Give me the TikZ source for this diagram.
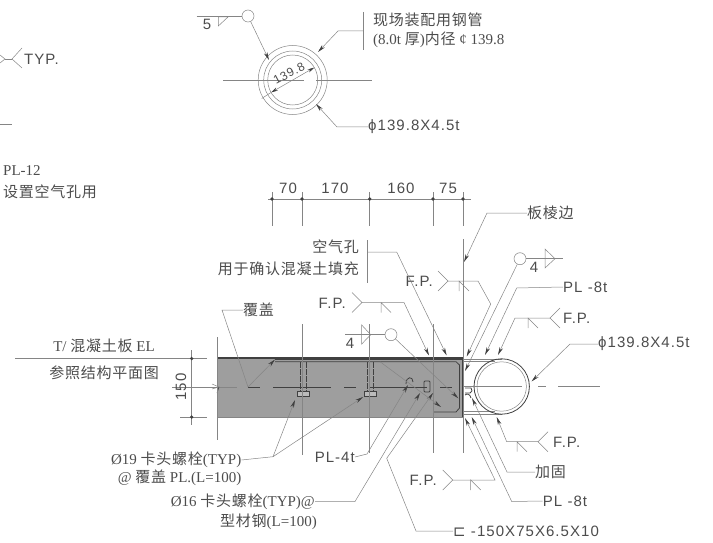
\documentclass[tikz,border=0pt]{standalone}
\usepackage{fontspec}
\setmainfont{Liberation Serif}
\newfontfamily\cjkfont[LetterSpace=5]{Noto Sans CJK SC}
\newfontfamily\drawfont[LetterSpace=7]{Liberation Sans}
\newfontfamily\symfont{DejaVu Sans}
\newcommand{\cjk}[1]{{\cjkfont #1}}
\usetikzlibrary{
    positioning,
    arrows.meta
    }
\definecolor{inkline}{gray}{0.52}
\definecolor{inktext}{gray}{0.3}
\definecolor{inkdark}{gray}{0.25}
\definecolor{slabfill}{gray}{0.62}

\begin{document}
\begin{tikzpicture}[x=1pt, y=-1pt]
\tikzset{hair/.style =
        {
            line width=0.5pt,
            inkline
        }
}

\tikzset{leader/.style =
        {
            hair,
            -{Stealth[length=8pt, width=3.6pt, inkdark]}
        }
}

\tikzset{steel/.style =
        {
            line width=0.8pt,
            inkdark
        }
}

\tikzset{serif label/.style =
        {
            inner sep=0pt,
            text=inktext,
            font=\fontsize{15}{15}\selectfont
        }
}

\tikzset{sans label/.style =
        {
            serif label,
            font=\fontsize{15}{15}\selectfont\drawfont
        }
}

\tikzset{weld ring/.style =
        {
            shape=circle,
            hair,
            minimum size=12pt,
            inner sep=0pt,
            draw
        }
}

\tikzset{dim dot/.style =
        {
            shape=circle,
            fill=inkdark,
            minimum size=3.6pt,
            inner sep=0pt
        }
}

\tikzset{fp fork/.pic = {
            \draw [hair] (-10,-10) -- (0,0) -- (-10,10);
        }
}

\tikzset{fp tick/.pic = {
            \draw [hair] (0,10) -- (0,0) -- (10,10);
        }
}

\useasboundingbox (0,0) rectangle (713,543);

% slab and section
\fill [slabfill] (217,358) rectangle (463,417);
\draw [steel, line width=1.2pt] (217,358) -- (463,358);
\draw [inkline, line width=0.8pt] (217,417) -- (463,417);

\draw [steel] (275,359.5) -- (463,359.5);
\draw [steel] (275,361.7) -- (456,361.7) -- (459.5,365) -- (459.5,408) -- (456,412) -- (433,412);
\draw [steel, line width=1.2pt] (463,358) -- (463,417);
\draw [hair] (463,359.3) -- (502,359.3);
\draw [hair] (463,361.7) -- (495,361.7);
\draw [hair] (463,414) -- (502,414);
\draw [hair] (463,411.7) -- (495,411.7);

\foreach \bx in {300,367}
{
    \draw [steel, dashed, dash pattern=on 6pt off 1pt] (\bx,362) -- (\bx,391);
    \draw [steel, dashed, dash pattern=on 6pt off 1pt] (\bx+6.5,362) -- (\bx+6.5,391);
    \draw [steel, fill=slabfill!70] (\bx-3,391) rectangle (\bx+9,396);
}

\draw [steel] (406,384) .. controls (406,376) and (413,376) .. (413,382);
\draw [steel, rounded corners=1pt] (424,381) rectangle (430,392);
\draw [steel] (465,388) -- (471,388) .. controls (473,390) and (472,392) .. (470,393) -- (465,393);
\draw [steel] (465,395) .. controls (467,393) and (470,394) .. (471,398);

% tube
\draw [steel] (501.7,386.5) circle [radius=27.7];
\draw [hair] (501.7,386.5) circle [radius=24.7];

% centre lines
\draw [hair] (172,387) -- (237,387);
\draw [steel, line width=0.5pt, dash pattern=on 12pt off 13pt on 58pt off 13pt] (248,387) -- (460,387);
\draw [hair] (463,386.5) -- (522,386.5);
\draw [hair, dash pattern=on 8pt off 12pt on 42pt off 12pt] (538,386.5) -- (610,386.5);
\draw [hair] (212,384) -- (219,387) -- (212,389);
\draw [steel, line width=0.5pt] (219,387) -- (217,393);

% dimensions
\foreach \ex / \etop / \elow in {302/324/455, 369.7/324/453, 433/324/453}
{
    \draw [hair] (\ex,192) -- (\ex,226);
    \draw [hair] (\ex,\etop) -- (\ex,\elow);
}
\draw [hair] (272,192) -- (272,226);
\draw [hair] (463,192) -- (463,226);
\draw [hair] (463,239) -- (463,453);
\draw [hair] (217,337) -- (217,440);
\draw [hair] (268,199) -- (471,199);
\foreach \name / \dx in {a/272, b/302, c/369.7, d/433, e/463}
    \node [dim dot] (dot-\name) at (\dx,199) {};
\foreach \name / \dx / \txt in {a/288/70, b/335/170, c/401/160, d/448/75}
    \node [sans label] (len-\name) at (\dx,188) {\txt};

\draw [hair] (15,358.5) -- (207,358.5);
\draw [hair] (180,417) -- (207,417);
\draw [hair] (191.7,350) -- (191.7,425);
\node [dim dot] (dot-f) at (191.7,358.5) {};
\node [dim dot] (dot-g) at (191.7,417) {};
\node [sans label, rotate=90] (len-f) at (181,387) {150};

\node [serif label] (level-top) at (104,346) {T/ \cjk{混凝土板} EL};
\node [serif label] (level-low) at (104,373) {\cjk{参照结构平面图}};

% top detail
\node [weld ring] (ring-top) at (248,16) {};
\draw [hair] (196.7,16) -- (ring-top);
\draw [hair] (218.3,17) -- (228,17) -- (218.3,26) -- cycle;
\node [sans label] (weld-top) at (207,24) {5};

\coordinate (pipe) at (292.7,80);
\draw [hair] (pipe) circle [radius=34.5];
\draw [hair] (pipe) circle [radius=29];
\draw [hair] (pipe) circle [radius=25];
\draw [hair] (223,80) -- (304,80);
\draw [hair] (316,80) -- (372,80);
\coordinate (bore-a) at (271,92.5);
\coordinate (bore-b) at (314.4,67.5);
\draw [hair] (261.7,98.5) -- (bore-a);
\draw [hair, {Stealth[length=7pt, width=3.4pt, inkdark]}-{Stealth[length=7pt, width=3.4pt, inkdark]}] (bore-a) -- (bore-b);
\node [sans label, rotate=28, font=\fontsize{12}{12}\selectfont\drawfont] (bore) at (289,73.5) {139.8};

\node [serif label, anchor=west] (pipe-note-a) at (373,20) {\cjk{现场装配用钢管}};
\node [serif label, anchor=west] (pipe-note-b) at (373,40) {(8.0t \cjk{厚})\cjk{内径} ¢ 139.8};
\node [sans label, anchor=west] (pipe-size) at (368,127) {ϕ139.8X4.5t};

\coordinate (note-bar) at (363,31);
\draw [hair] (363,12) -- (363,50);
\draw [leader] (ring-top) -- (269,60);
\draw [leader] (note-bar) -- (338,31) -- (318,52);
\draw [leader] (pipe-size.west) -- (337,127) -- (316,104);

% left pieces
\draw [hair] (0,55) -- (5,59) -- (0,63);
\draw [hair] (5,59) -- (12,59);
\draw [hair] (22,48) -- (12,59) -- (22,68);
\draw [hair] (0,124) -- (12,124);
\node [sans label, anchor=west] (typ) at (24,59) {TYP.};
\node [serif label, anchor=west] (plate-no) at (3,171) {PL-12};
\node [serif label, anchor=west] (plate-use) at (3,192) {\cjk{设置空气孔用}};

% labels of the section
\node [serif label, anchor=east] (hole-a) at (359,247) {\cjk{空气孔}};
\node [serif label, anchor=east] (hole-b) at (359,269) {\cjk{用于确认混凝土填充}};
\node [serif label, anchor=west] (edge) at (527,213) {\cjk{板棱边}};
\node [serif label, anchor=west] (cover) at (243,310) {\cjk{覆盖}};
\node [sans label, anchor=west] (tube-size) at (598,344) {ϕ139.8X4.5t};
\node [sans label, anchor=west] (plate-r) at (563,287) {PL -8t};
\node [sans label, anchor=west] (plate-b) at (542.7,501) {PL -8t};
\node [sans label, anchor=east] (plate-l) at (355,457) {PL-4t};
\node [serif label, anchor=west] (stiff) at (535,472) {\cjk{加固}};
\node [sans label, anchor=west] (channel) at (453,531) {{\symfont ⊏} -150X75X6.5X10};
\node [serif label, anchor=east] (stud-a) at (241.5,460) {Ø19 \cjk{卡头螺栓}(TYP)};
\node [serif label, anchor=east] (stud-b) at (241.5,478) {@ \cjk{覆盖} PL.(L=100)};
\node [serif label, anchor=east] (bolt-a) at (315,501.5) {Ø16 \cjk{卡头螺栓}(TYP)@};
\node [serif label, anchor=east] (bolt-b) at (317,522) {\cjk{型材钢}(L=100)};

\foreach \name / \fx / \fy in {a/346/303, b/433/281.7}
    \node [sans label, anchor=east] (fp-\name) at (\fx,\fy) {F.P.};
\node [sans label, anchor=west] (fp-c) at (563,318) {F.P.};
\node [sans label, anchor=west] (fp-d) at (553,442) {F.P.};
\node [sans label, anchor=east] (fp-e) at (437,480) {F.P.};

% weld symbols of the section
\node [weld ring] (ring-l) at (391,334.7) {};
\draw [hair] (345,334.7) -- (ring-l);
\draw [hair] (361.7,325) -- (370.7,334.7) -- (361.7,344) -- cycle;
\node [sans label] (weld-l) at (350,343) {4};

\node [weld ring] (ring-r) at (520,258.7) {};
\draw [hair] (ring-r) -- (563,258.7);
\draw [hair] (545,249) -- (555,258.7) -- (545,268) -- cycle;
\node [sans label] (weld-r) at (534,267) {4};

\foreach \fx / \tx / \fy / \flip in {362/381/302.5/1, 448/459/281/1, 452.7/470.7/480/1, 550/528/318/-1, 538/517/441.7/-1}
{
    \pic [xscale=\flip] at (\fx,\fy) {fp fork};
    \pic at (\tx,\fy) {fp tick};
}

% leaders of the section
\draw [hair] (367.3,240) -- (367.3,282.7);
\draw [leader] (367.3,252) -- (396.7,252) -- (446.7,355.5);
\draw [leader] (362,302.5) -- (404,302.5) -- (429,355.5);
\draw [leader] (448,281) -- (478,281) -- (490.7,304) -- (466.7,356.5);
\draw [leader] (edge.west) -- (487,213) -- (464,262);
\draw [leader] (ring-r) -- (465,371);
\draw [leader] (plate-r.west) -- (516.7,288) -- (485,355);
\draw [leader] (550,318) -- (515,318) -- (498,355);
\draw [leader] (tube-size.west) -- (570,344) -- (531.5,381.5);
\draw [leader] (538,441.7) -- (506.7,441.7) -- (496.7,417);
\draw [leader] (stiff.west) -- (507,472) -- (472,398);
\draw [leader] (plate-b.west) -- (511.7,501.5) -- (471.7,417);
\draw [leader] (452.7,480) -- (495,480) -- (465,418);
\draw [leader] (channel.west) -- (416,531) -- (386.7,458.3) -- (433,393);
\draw [leader] (ring-l) -- (458.3,398.3);
\draw [leader] (380,361.7) -- (441,407);
\draw [leader] (cover.west) -- (222,310) -- (248,387) -- (275,359.5);
\draw [leader] (plate-l.east) -- (367,454) -- (408,385);
\draw [leader] (bolt-a.east) -- (355,501.5) -- (420,393);
\draw [leader] (stud-a.east) -- (273,456.7) -- (295,400);
\draw [leader] (273,456.7) -- (363,397);
\end{tikzpicture}
\end{document}
